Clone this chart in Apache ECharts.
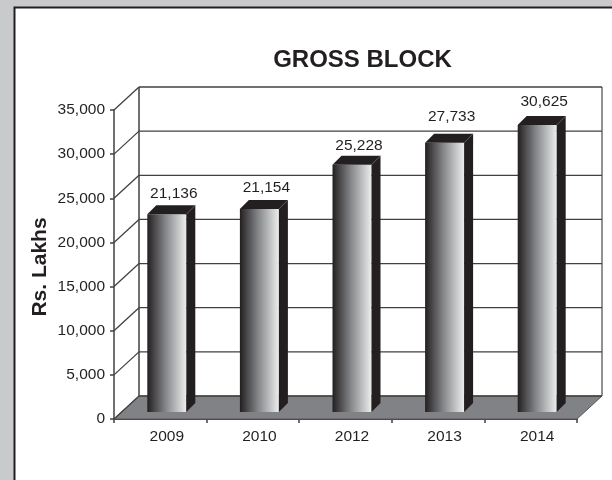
<!DOCTYPE html>
<html><head><meta charset="utf-8">
<style>html,body{margin:0;padding:0;background:#c8cacc}#c{width:612px;height:480px}</style>
<script src="https://cdn.jsdelivr.net/npm/echarts@6/dist/echarts.min.js"></script>
</head><body><div id="c"></div>
<script>
const categories = ['2009','2010','2012','2013','2014'];
const barHeights = [22400,23000,28000,30500,32500];
const barLabels = ['21,136','21,154','25,228','27,733','30,625'];
const yTicks = [0,5000,10000,15000,20000,25000,30000,35000];
const labelLift = [21,21,19,26,23];
const DX = 25, DY = 23, BX = 6.5, BY = 7, BW = 39, BD = 9;
const ink = '#414042', dark = '#231f20', font = 'Liberation Sans';

const chart = echarts.init(document.getElementById('c'), null, {renderer:'canvas'});
chart.setOption({
  animation:false,
  backgroundColor:'#c8cacc',
  graphic:[
    {type:'rect',z:-10,shape:{x:14.5,y:7.5,width:610,height:490},style:{fill:'#fff',stroke:'#231f20',lineWidth:2}}
  ],
  title:{text:'GROSS BLOCK',left:357.5,top:43.5,textAlign:'center',
    textStyle:{fontFamily:font,fontWeight:'bold',fontSize:24,color:dark}},
  grid:{left:114,top:110,width:463,height:309,containLabel:false},
  xAxis:{type:'category',data:categories,
    axisLine:{lineStyle:{color:ink,width:2}},
    axisTick:{show:true,alignWithLabel:false,length:4,lineStyle:{color:ink,width:1.5}},
    axisLabel:{fontFamily:font,fontSize:15.5,color:dark,margin:10,padding:[0,0,0,13]}},
  yAxis:{type:'value',min:0,max:35000,interval:5000,
    name:'Rs. Lakhs',nameLocation:'middle',nameGap:63,nameRotate:90,nameMoveOverlap:false,
    nameTextStyle:{fontFamily:font,fontWeight:'bold',fontSize:21,color:dark,padding:[0,5,0,0]},
    axisLine:{show:true,lineStyle:{color:ink,width:1.5}},
    axisTick:{show:true,length:4,lineStyle:{color:ink,width:1.5}},
    axisLabel:{fontFamily:font,fontSize:15.5,color:dark,margin:9,padding:[2,0,0,0]},
    splitLine:{show:false}},
  series:[
    {type:'custom',name:'floor',silent:true,z:1,data:[[0,0]],
     renderItem(p,api){
       const g=p.coordSys,y0=api.coord([0,0])[1],x0=g.x,x1=g.x+g.width;
       const top=api.coord([0,35000])[1];
       return {type:'group',children:[
         {type:'polygon',shape:{points:[[x0,y0],[x0+DX,y0-DY],[x1+DX,y0-DY],[x1,y0]]},style:{fill:'#808285',stroke:'#58595b',lineWidth:1}},
         {type:'line',shape:{x1:x0+DX,y1:top-DY,x2:x0+DX,y2:y0-DY},style:{stroke:ink,lineWidth:1.5}},
         {type:'line',shape:{x1:x1+DX,y1:top-DY,x2:x1+DX,y2:y0-DY},style:{stroke:'#6d6e71',lineWidth:1.5}}
       ]};
     }},
    {type:'custom',name:'wall',silent:true,z:2,data:yTicks.map(v=>[0,v]),
     renderItem(p,api){
       const g=p.coordSys,y=api.coord([0,api.value(1)])[1],x0=g.x,x1=g.x+g.width;
       return {type:'group',children:[
         {type:'line',shape:{x1:x0,y1:y,x2:x0+DX,y2:y-DY},style:{stroke:ink,lineWidth:1.3}},
         {type:'line',shape:{x1:x0+DX,y1:y-DY,x2:x1+DX,y2:y-DY},style:{stroke:ink,lineWidth:1.3}}
       ]};
     }},
    {type:'custom',name:'bars',silent:true,z:3,
     data:barHeights.map((v,i)=>[i,v]),
     renderItem(p,api){
       const c=api.coord([api.value(0),api.value(1)]);
       const b=api.coord([api.value(0),0]);
       const l=c[0]+BX-BW/2,r=l+BW,t=c[1]-BY,f=b[1]-BY;
       return {type:'group',children:[
         {type:'rect',shape:{x:l,y:t,width:BW,height:f-t},style:{fill:new echarts.graphic.LinearGradient(0,0,1,0,[
            {offset:0,color:'#231f20'},{offset:.45,color:'#808285'},{offset:1,color:'#eceded'}])}},
         {type:'polygon',shape:{points:[[r,t],[r+BD,t-BD],[r+BD,f-BD],[r,f]]},style:{fill:dark}},
         {type:'polygon',shape:{points:[[l,t],[l+BD,t-BD],[r+BD,t-BD],[r,t]]},style:{fill:dark}},
         {type:'line',shape:{x1:r,y1:t,x2:r+BD,y2:t-BD},style:{stroke:'#58595b',lineWidth:.6}},
         {type:'text',style:{text:barLabels[p.dataIndex],x:(l+r)/2+7,y:t-labelLift[p.dataIndex],align:'center',verticalAlign:'middle',
            fontFamily:font,fontSize:15.5,fill:dark}}
       ]};
     }}
  ]
});
</script></body></html>
